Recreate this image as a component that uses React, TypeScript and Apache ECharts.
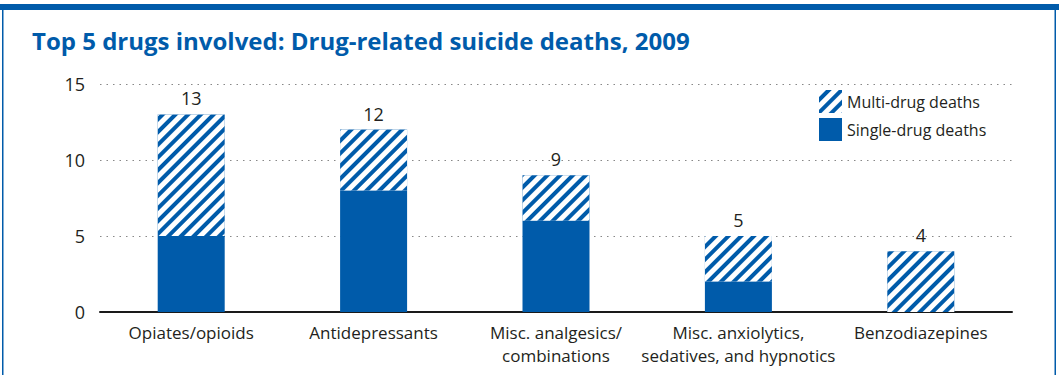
import React, { useEffect, useRef } from "react";
import * as echarts from "echarts";

const categories = [
  "Opiates/opioids",
  "Antidepressants",
  "Misc. analgesics/\ncombinations",
  "Misc. anxiolytics,\nsedatives, and hypnotics",
  "Benzodiazepines",
];
const singleDrug = [5, 8, 6, 2, 0];
const multiDrug = [8, 4, 3, 3, 4];
const totals = [13, 12, 9, 5, 4];
const titleText = "Top 5 drugs involved: Drug-related suicide deaths, 2009";

const BLUE = "#005BAA";
const TEXT = "#231f20";
const FONT = "'Open Sans', Lato, sans-serif";

export default function App() {
  const ref = useRef<HTMLDivElement>(null);
  useEffect(() => {
    if (!ref.current) return;
    const chart = echarts.init(ref.current, undefined, { renderer: "svg" });
    chart.setOption({
      animation: false,
      backgroundColor: "#fff",
      textStyle: { fontFamily: FONT },
      title: {
        text: titleText,
        left: 27,
        top: 23,
        textStyle: { color: BLUE, fontSize: 24, fontWeight: "bold", fontFamily: FONT },
      },
      graphic: [
        { type: "rect", shape: { x: 0, y: 4, width: 1059, height: 6 }, style: { fill: BLUE } },
        { type: "rect", shape: { x: 2, y: 4, width: 1.5, height: 371 }, style: { fill: BLUE } },
        { type: "rect", shape: { x: 1054.5, y: 4, width: 1.5, height: 371 }, style: { fill: BLUE } },
      ],
      legend: {
        orient: "vertical",
        left: 814,
        top: 85,
        itemWidth: 23,
        itemHeight: 23,
        itemGap: 5,
        icon: "rect",
        data: ["Multi-drug deaths", "Single-drug deaths"],
        textStyle: { color: TEXT, fontSize: 16, fontFamily: FONT },
      },
      grid: { left: 100, right: 47, top: 84, bottom: 63, containLabel: false },
      xAxis: {
        type: "category",
        data: categories,
        axisLine: { lineStyle: { color: "#1a1a1a", width: 2 } },
        axisTick: { show: false },
        axisLabel: { color: TEXT, fontSize: 17, lineHeight: 23, margin: 9, interval: 0 },
      },
      yAxis: {
        type: "value",
        min: 0,
        max: 15,
        interval: 5,
        axisLine: { show: false },
        axisTick: { show: false },
        axisLabel: { color: TEXT, fontSize: 18, margin: 15 },
        splitLine: { lineStyle: { color: "#888", type: [1.5, 5], width: 1.2 } },
      },
      series: [
        {
          name: "Single-drug deaths",
          type: "bar",
          stack: "total",
          barWidth: 67,
          data: singleDrug,
          itemStyle: { color: BLUE },
        },
        {
          name: "Multi-drug deaths",
          type: "bar",
          stack: "total",
          barWidth: 67,
          data: multiDrug,
          itemStyle: {
            color: BLUE,
            decal: {
              symbol: "rect",
              symbolSize: 1,
              color: "#fff",
              dashArrayX: [1, 0],
              dashArrayY: [5, 4],
              rotation: -Math.PI / 4,
            },
          },
          label: {
            show: true,
            position: "top",
            distance: 7,
            color: TEXT,
            fontSize: 18,
            formatter: (p: any) => String(totals[p.dataIndex]),
          },
        },
      ],
    });
    return () => chart.dispose();
  }, []);
  return (
    <div
      ref={ref}
      style={{ position: "fixed", left: 0, top: 0, width: 1059, height: 375 }}
    />
  );
}
